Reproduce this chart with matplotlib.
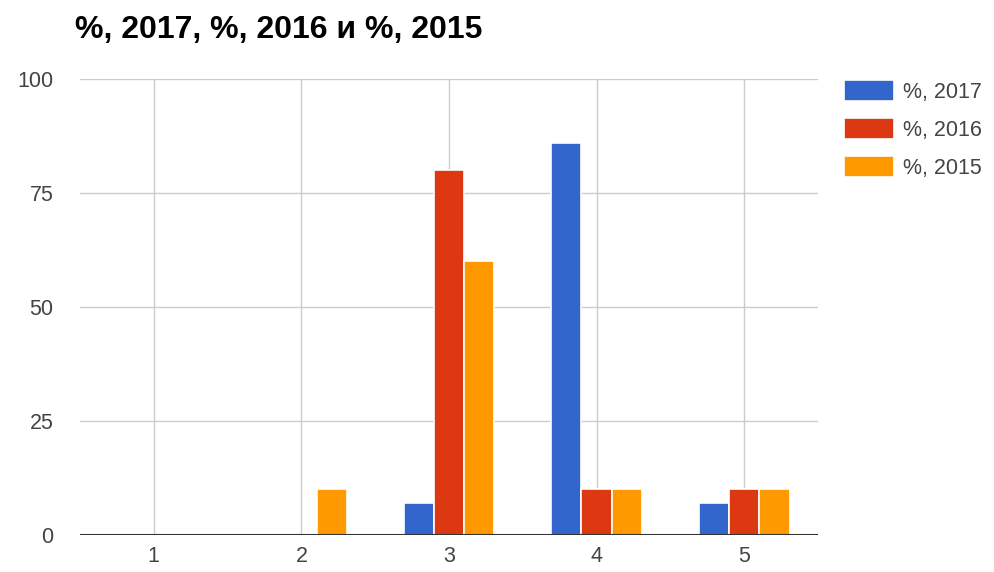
import matplotlib
matplotlib.use("Agg")
import matplotlib.pyplot as plt
import numpy as np

plt.rcParams['font.family'] = ['Liberation Sans', 'DejaVu Sans']

categories = ["1", "2", "3", "4", "5"]
series_names = ["%, 2017", "%, 2016", "%, 2015"]
vals_2017 = [0, 0, 7, 86, 7]
vals_2016 = [0, 0, 80, 10, 10]
vals_2015 = [0, 10, 60, 10, 10]
colors = ["#3366CC", "#DC3912", "#FF9900"]
yticks = [0, 25, 50, 75, 100]
title = "%, 2017, %, 2016 и %, 2015"

fig = plt.figure(figsize=(9.94, 5.72), dpi=100)
ax = fig.add_axes([80/994, 1-535/572, (818-80)/994, (535-79)/572])

x = np.arange(1, len(categories) + 1)
w = 0.205
for i, (vals, name, c) in enumerate(zip([vals_2017, vals_2016, vals_2015], series_names, colors)):
    ax.bar(x + (i - 1) * w, vals, width=w, color=c, edgecolor='white', linewidth=1.2,
           label=name, zorder=3)

ax.set_xlim(0.5, 5.5)
ax.set_ylim(0, 100)
ax.set_yticks(yticks)
ax.set_xticks(x)
ax.set_xticklabels(categories)
ax.grid(True, color='#cccccc', linewidth=1, zorder=0)
ax.axhline(0, color='#333333', linewidth=1.5, zorder=4)
for s in ax.spines.values():
    s.set_visible(False)
ax.tick_params(length=0, labelsize=15.5, colors='#444444')
ax.tick_params(axis='y', pad=19)
ax.tick_params(axis='x', pad=8)

fig.text(75/994, 1-30/572, title, fontsize=23, fontweight='bold', color='#000000',
         va='center', ha='left')

leg = ax.legend(loc='upper left', bbox_to_anchor=((844 - 80)/738, 1.0 - 1/456),
                frameon=False, fontsize=15.5, handlelength=2.3, handleheight=1.15,
                labelspacing=0.7, handletextpad=0.45, borderpad=0, borderaxespad=0)
for t in leg.get_texts():
    t.set_color('#444444')

fig.savefig("out.png", dpi=100)
